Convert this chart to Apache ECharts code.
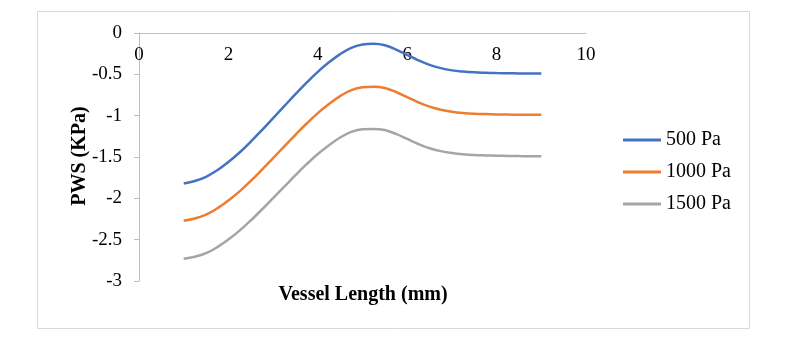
<!DOCTYPE html>
<html>
<head>
<meta charset="utf-8">
<script src="https://cdn.jsdelivr.net/npm/echarts@6/dist/echarts.min.js"></script>
<style>
html,body{margin:0;padding:0;background:#fff;}
#chart{width:792px;height:341px;}
</style>
</head>
<body>
<div id="chart"></div>
<script>
const xValues = [1, 1.25, 1.5, 1.75, 2, 2.25, 2.5, 2.75, 3, 3.25, 3.5, 3.75, 4, 4.25, 4.5, 4.75, 5, 5.25, 5.5, 5.75, 6, 6.25, 6.5, 6.75, 7, 7.25, 7.5, 7.75, 8, 8.25, 8.5, 8.75, 9];
const pa500  = [-1.82, -1.79, -1.74, -1.66, -1.56, -1.445, -1.315, -1.175, -1.03, -0.885, -0.74, -0.60, -0.47, -0.355, -0.255, -0.18, -0.14, -0.13, -0.148, -0.20, -0.265, -0.33, -0.385, -0.425, -0.452, -0.467, -0.476, -0.481, -0.485, -0.487, -0.489, -0.49, -0.49];
const pa1000 = [-2.27, -2.244, -2.198, -2.122, -2.026, -1.916, -1.79, -1.654, -1.513, -1.372, -1.231, -1.095, -0.969, -0.859, -0.763, -0.692, -0.656, -0.65, -0.665, -0.714, -0.776, -0.839, -0.891, -0.928, -0.952, -0.967, -0.976, -0.981, -0.985, -0.987, -0.989, -0.99, -0.99];
const pa1500 = [-2.73, -2.707, -2.664, -2.591, -2.498, -2.391, -2.268, -2.135, -1.997, -1.859, -1.72, -1.587, -1.464, -1.357, -1.264, -1.196, -1.163, -1.16, -1.174, -1.221, -1.282, -1.343, -1.394, -1.429, -1.452, -1.467, -1.476, -1.481, -1.485, -1.487, -1.489, -1.49, -1.49];
const seriesNames = ['500 Pa', '1000 Pa', '1500 Pa'];
const seriesColors = ['#4472C4', '#ED7D31', '#A5A5A5'];
const xTitle = 'Vessel Length (mm)';
const yTitle = 'PWS (KPa)';

const FONT = '"Liberation Serif", "Times New Roman", serif';
const pair = arr => xValues.map((x, i) => [x, arr[i]]);

const chart = echarts.init(document.getElementById('chart'), null, {renderer: 'canvas'});
chart.setOption({
  animation: false,
  backgroundColor: '#fff',
  grid: {left: 139, right: 206, top: 33, bottom: 60, containLabel: false},
  xAxis: {
    type: 'value', min: 0, max: 10, interval: 2, position: 'top',
    axisLine: {show: true, lineStyle: {color: '#bfbfbf', width: 1}},
    axisTick: {show: false},
    splitLine: {show: false},
    axisLabel: {inside: true, margin: 13, color: '#000', fontFamily: FONT, fontSize: 19}
  },
  yAxis: {
    type: 'value', min: -3, max: 0, interval: 0.5,
    axisLine: {show: true, lineStyle: {color: '#bfbfbf', width: 1}},
    axisTick: {show: true, length: 5, lineStyle: {color: '#bfbfbf'}},
    splitLine: {show: false},
    axisLabel: {margin: 17, color: '#000', fontFamily: FONT, fontSize: 19}
  },
  legend: {
    orient: 'vertical', left: 618, top: 125, itemGap: 12,
    itemWidth: 38, itemHeight: 3, icon: 'rect',
    textStyle: {color: '#000', fontFamily: FONT, fontSize: 20},
    data: seriesNames
  },
  graphic: [
    {type: 'rect', shape: {x: 37.5, y: 11.5, width: 712, height: 317}, style: {fill: 'none', stroke: '#d9d9d9', lineWidth: 1}, silent: true, z: -1},
    {type: 'text', x: 363, y: 295, style: {text: xTitle, fill: '#000', font: 'bold 20px ' + FONT, textAlign: 'center', textVerticalAlign: 'middle'}},
    {type: 'text', x: 80, y: 156, rotation: Math.PI / 2, style: {text: yTitle, fill: '#000', font: 'bold 20px ' + FONT, textAlign: 'center', textVerticalAlign: 'middle'}}
  ],
  series: [pa500, pa1000, pa1500].map((arr, i) => ({
    name: seriesNames[i], type: 'line', data: pair(arr), smooth: 0.4,
    symbol: 'none', color: seriesColors[i],
    lineStyle: {width: 2.5, color: seriesColors[i]}
  }))
});
</script>
</body>
</html>
